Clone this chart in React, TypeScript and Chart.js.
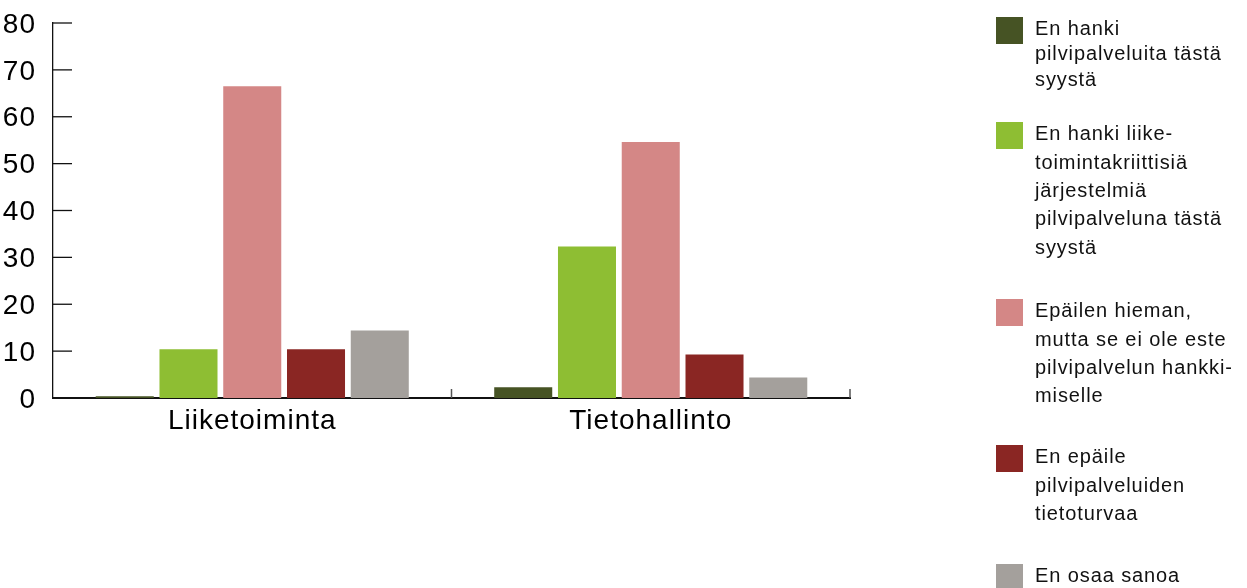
import React, { useEffect, useRef } from "react";
import { Chart, registerables } from "chart.js";

Chart.register(...registerables);

// ---- Data ----
const categories = ["Liiketoiminta", "Tietohallinto"];
const enHankiSyysta = [0.4, 2.3];
const enHankiKriittisia = [10.4, 32.3];
const epailenHieman = [66.5, 54.6];
const enEpaile = [10.4, 9.3];
const enOsaaSanoa = [14.4, 4.4];
const yTickValues = [0, 10, 20, 30, 40, 50, 60, 70, 80];

const legendLines = [
  ["En hanki", "pilvipalveluita tästä", "syystä"],
  ["En hanki liike-", "toimintakriittisiä", "järjestelmiä", "pilvipalveluna tästä", "syystä"],
  ["Epäilen hieman,", "mutta se ei ole este", "pilvipalvelun hankki-", "miselle"],
  ["En epäile", "pilvipalveluiden", "tietoturvaa"],
  ["En osaa sanoa"],
];

// ---- Styles ----
const colors = ["#465324", "#8ebe33", "#d48786", "#8a2623", "#a4a09c"];
const FONT = '"Liberation Sans", Arial, Helvetica, sans-serif';
const LEGEND_FONT_SIZE = 20;
const legendLayout = [
  { top: 17, lh: 25.5 },
  { top: 122, lh: 28.3 },
  { top: 299, lh: 28.3 },
  { top: 445, lh: 28.5 },
  { top: 564, lh: 28.3 },
];

const seriesValues = [enHankiSyysta, enHankiKriittisia, epailenHieman, enEpaile, enOsaaSanoa];

const tickPlugin = {
  id: "innerTicks",
  beforeDraw(chart: any) {
    chart.ctx.letterSpacing = "1px";
  },
  afterDraw(chart: any) {
    const { ctx, chartArea, scales } = chart;
    const { left, right, bottom } = chartArea;
    ctx.save();
    ctx.strokeStyle = "#111";
    ctx.lineWidth = 1.3;
    yTickValues.forEach((v) => {
      const py = scales.y.getPixelForValue(v);
      ctx.beginPath();
      ctx.moveTo(left, py);
      ctx.lineTo(left + 19, py);
      ctx.stroke();
    });
    ctx.strokeStyle = "#555";
    ctx.lineWidth = 1.5;
    const n = categories.length;
    for (let i = 1; i <= n; i++) {
      const px = left + ((right - left) * i) / n;
      ctx.beginPath();
      ctx.moveTo(px, bottom);
      ctx.lineTo(px, bottom - 9);
      ctx.stroke();
    }
    ctx.restore();
  },
};

export default function App() {
  const ref = useRef<HTMLCanvasElement>(null);

  useEffect(() => {
    document.body.style.margin = "0";
    const chart = new Chart(ref.current as HTMLCanvasElement, {
      type: "bar",
      data: {
        labels: categories,
        datasets: seriesValues.map((vals, i) => ({
          label: legendLines[i].join(" "),
          data: vals,
          backgroundColor: colors[i],
          borderWidth: 0,
          barPercentage: 0.91,
          categoryPercentage: 0.8,
        })),
      },
      options: {
        animation: false,
        responsive: false,
        layout: { padding: { top: 23, right: 397, bottom: 140, left: 0 } },
        plugins: { legend: { display: false }, tooltip: { enabled: false } },
        scales: {
          x: {
            z: 1,
            grid: { display: false, drawTicks: false },
            border: { display: true, color: "#111", width: 2 },
            ticks: { color: "#000", font: { family: FONT, size: 28 }, padding: 6 },
            afterFit: (s: any) => {
              s.height = 50;
              s.paddingLeft = 0;
              s.paddingRight = 0;
            },
          },
          y: {
            min: 0,
            max: 80,
            grid: { display: false, drawTicks: false },
            border: { display: true, color: "#111", width: 1.3 },
            ticks: { color: "#000", font: { family: FONT, size: 28 }, padding: 17, labelOffset: 2 },
            afterBuildTicks: (s: any) => {
              s.ticks = yTickValues.map((v) => ({ value: v }));
            },
            afterFit: (s: any) => {
              s.width = 53;
              s.paddingTop = 0;
              s.paddingBottom = 0;
            },
          },
        },
      },
      plugins: [tickPlugin],
    });
    return () => chart.destroy();
  }, []);

  const content = LEGEND_FONT_SIZE * 1.117;
  const ascent = LEGEND_FONT_SIZE * 0.905;

  return (
    <div style={{ position: "relative", width: 1247, height: 588, overflow: "hidden", background: "#fff" }}>
      <canvas ref={ref} width={1247} height={588} style={{ position: "absolute", left: 0, top: 0 }} />
      {legendLines.map((lines, i) => {
        const { top, lh } = legendLayout[i];
        const textTop = top + 18.5 - ascent - (lh - content) / 2;
        return (
          <div key={i}>
            <div
              style={{
                position: "absolute",
                left: 996,
                top,
                width: 27,
                height: 27,
                background: colors[i],
              }}
            />
            <div
              style={{
                position: "absolute",
                left: 1035,
                top: textTop,
                fontFamily: FONT,
                fontSize: LEGEND_FONT_SIZE,
                lineHeight: `${lh}px`,
                letterSpacing: "0.9px",
                color: "#111",
                whiteSpace: "nowrap",
              }}
            >
              {lines.map((l, j) => (
                <div key={j}>{l}</div>
              ))}
            </div>
          </div>
        );
      })}
    </div>
  );
}
